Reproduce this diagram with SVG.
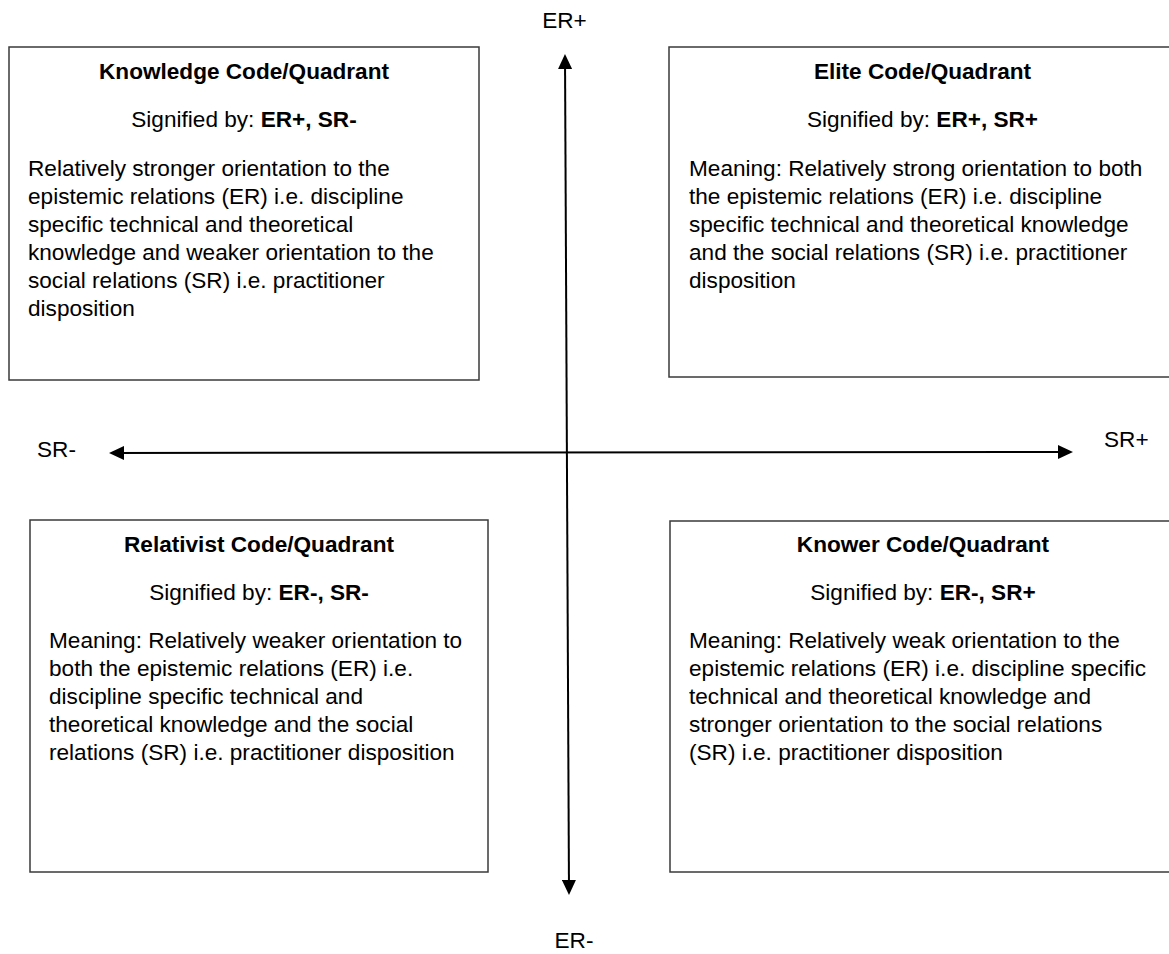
<svg xmlns="http://www.w3.org/2000/svg" width="1169" height="954" viewBox="0 0 1169 954">
<defs>
<style>
text{font-family:"Liberation Sans",Arial,sans-serif;font-size:22.6px;fill:#000}
.t{font-weight:bold;text-anchor:middle}
.s{text-anchor:middle}
.b{font-weight:bold}
.box{fill:#fff;stroke:#3a3a3a;stroke-width:1.5}
.ax{stroke:#000;stroke-width:2;fill:none}
</style>
<marker id="ah" markerUnits="userSpaceOnUse" markerWidth="16" markerHeight="14" refX="13" refY="7" orient="auto-start-reverse" viewBox="0 0 16 14">
<path d="M0,0 L15,7 L0,14 z" fill="#000"/>
</marker>
</defs>
<rect width="1169" height="954" fill="#fff"/>
<g id="connectors">
<line class="ax" x1="565" y1="56" x2="569" y2="893" marker-start="url(#ah)" marker-end="url(#ah)"/>
<line class="ax" x1="111" y1="453" x2="1071" y2="452" marker-start="url(#ah)" marker-end="url(#ah)"/>
</g>
<g id="axis-labels">
<text x="564.5" y="28" class="s">ER+</text>
<text x="574" y="948" class="s">ER-</text>
<text x="37" y="457">SR-</text>
<text x="1104" y="447">SR+</text>
</g>
<g id="knowledge">
<rect class="box" x="9" y="47" width="470" height="333"/>
<text x="244" y="79" class="t">Knowledge Code/Quadrant</text>
<text x="244" y="127" class="s">Signified by: <tspan class="b">ER+, SR-</tspan></text>
<text x="28" y="176">Relatively stronger orientation to the</text>
<text x="28" y="204">epistemic relations (ER) i.e. discipline</text>
<text x="28" y="232">specific technical and theoretical</text>
<text x="28" y="260">knowledge and weaker orientation to the</text>
<text x="28" y="288">social relations (SR) i.e. practitioner</text>
<text x="28" y="316">disposition</text>
</g>
<g id="elite">
<rect class="box" x="669" y="47" width="507" height="330"/>
<text x="922.5" y="79" class="t">Elite Code/Quadrant</text>
<text x="922.5" y="127" class="s">Signified by: <tspan class="b">ER+, SR+</tspan></text>
<text x="689" y="176">Meaning: Relatively strong orientation to both</text>
<text x="689" y="204">the epistemic relations (ER) i.e. discipline</text>
<text x="689" y="232">specific technical and theoretical knowledge</text>
<text x="689" y="260">and the social relations (SR) i.e. practitioner</text>
<text x="689" y="288">disposition</text>
</g>
<g id="relativist">
<rect class="box" x="30" y="520" width="458" height="352"/>
<text x="259" y="552" class="t">Relativist Code/Quadrant</text>
<text x="259" y="600" class="s">Signified by: <tspan class="b">ER-, SR-</tspan></text>
<text x="49" y="648">Meaning: Relatively weaker orientation to</text>
<text x="49" y="676">both the epistemic relations (ER) i.e.</text>
<text x="49" y="704">discipline specific technical and</text>
<text x="49" y="732">theoretical knowledge and the social</text>
<text x="49" y="760">relations (SR) i.e. practitioner disposition</text>
</g>
<g id="knower">
<rect class="box" x="670" y="521" width="506" height="351"/>
<text x="923" y="552" class="t">Knower Code/Quadrant</text>
<text x="923" y="600" class="s">Signified by: <tspan class="b">ER-, SR+</tspan></text>
<text x="689" y="648">Meaning: Relatively weak orientation to the</text>
<text x="689" y="676">epistemic relations (ER) i.e. discipline specific</text>
<text x="689" y="704">technical and theoretical knowledge and</text>
<text x="689" y="732">stronger orientation to the social relations</text>
<text x="689" y="760">(SR) i.e. practitioner disposition</text>
</g>
</svg>
